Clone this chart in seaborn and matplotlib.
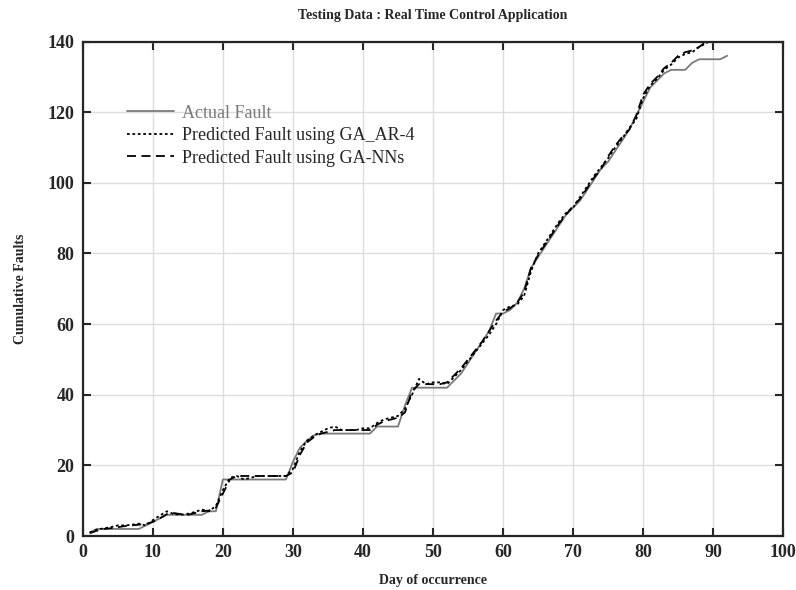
import numpy as np
import pandas as pd
import seaborn as sns
import matplotlib.pyplot as plt

days = list(range(1, 93))

actual = [1, 2, 2, 2, 2, 2, 2, 2, 3, 4,
          5, 6, 6, 6, 6, 6, 6, 7, 7, 16,
          16, 16, 16, 16, 16, 16, 16, 16, 16, 21,
          25, 27, 28.5, 29, 29, 29, 29, 29, 29, 29,
          29, 31, 31, 31, 31, 37, 42, 42, 42, 42,
          42, 42, 44, 46, 49, 52, 55, 58, 63, 63,
          64, 66, 70, 76, 79, 82, 85, 88, 91, 93,
          95, 98, 101, 104, 106, 109, 112, 115, 119, 123,
          127, 129, 131, 132, 132, 132, 134, 135, 135, 135,
          135, 136]

pred_ar = [1.0, 1.8, 2.2, 2.5, 3.0, 3.0, 3.2, 3.5, 3.0, 4.5,
           5.8, 7.0, 6.2, 6.0, 6.3, 6.8, 7.5, 7.0, 8.5, 13.0,
           16.5, 17.0, 16.0, 16.5, 17.0, 17.0, 17.0, 17.0, 17.0, 19.0,
           24.0, 27.0, 28.5, 29.5, 30.5, 31.0, 30.0, 30.0, 30.0, 30.5,
           30.5, 32.0, 33.0, 33.5, 34.0, 36.0, 40.0, 44.5, 43.0, 43.5,
           43.5, 43.0, 45.0, 47.0, 49.5, 52.0, 54.5, 57.0, 60.0, 64.0,
           65.0, 65.5, 68.0, 75.0, 80.0, 83.0, 86.0, 89.0, 91.5, 93.0,
           96.0, 99.0, 102.0, 104.5, 107.0, 110.0, 112.5, 115.5, 118.0, 124.0,
           127.5, 129.5, 132.0, 133.5, 135.5, 136.5, 137.0, 138.5, 139.5, 141.0,
           142.0, 143.0]

pred_nn = [0.8, 1.5, 2.0, 2.2, 2.5, 2.8, 3.0, 3.2, 3.4, 4.0,
           5.0, 6.2, 6.5, 6.2, 6.0, 6.5, 7.0, 7.2, 8.0, 12.0,
           16.0, 17.0, 17.0, 17.0, 17.0, 17.0, 17.0, 17.0, 17.0, 18.0,
           23.0, 26.5, 28.0, 29.0, 29.5, 30.0, 30.0, 30.0, 30.0, 30.0,
           30.0, 31.5, 32.5, 33.0, 33.5, 35.0, 41.0, 43.0, 43.0, 43.0,
           43.0, 43.5, 45.5, 47.5, 50.0, 52.5, 55.0, 58.0, 61.0, 63.5,
           64.5, 66.0, 69.0, 76.0, 79.5, 82.5, 85.5, 88.5, 91.0, 93.5,
           95.5, 98.5, 101.5, 104.0, 107.5, 110.5, 113.0, 115.0, 119.0, 125.0,
           128.0, 130.0, 132.5, 134.0, 136.0, 137.0, 137.5, 138.5, 140.0, 141.0,
           142.0, 143.0]

labels = ['Actual Fault', 'Predicted Fault using GA_AR-4', 'Predicted Fault using GA-NNs']

df = pd.concat([
    pd.DataFrame({'day': days, 'faults': actual, 'series': labels[0]}),
    pd.DataFrame({'day': days, 'faults': pred_ar, 'series': labels[1]}),
    pd.DataFrame({'day': days, 'faults': pred_nn, 'series': labels[2]}),
])

sns.set_style('ticks')
plt.rcParams['font.family'] = ['Liberation Serif', 'DejaVu Serif']

fig = plt.figure(figsize=(7.96, 5.90), dpi=100)
ax = fig.add_axes([0.104, 0.0915, 0.880, 0.838])

sns.lineplot(
    data=df, x='day', y='faults', hue='series', style='series',
    palette={labels[0]: '#7a7a7a', labels[1]: 'black', labels[2]: 'black'},
    dashes={labels[0]: '', labels[1]: (1.5, 1.5), labels[2]: (5, 3)},
    linewidth=1.3, ax=ax
)

ax.set_xlim(0, 100)
ax.set_ylim(0, 140)
ax.set_xticks(np.arange(0, 101, 10))
ax.set_yticks(np.arange(0, 141, 20))
ax.grid(True, color='#dddddd', linewidth=1.0)
ax.set_axisbelow(True)
ax.tick_params(direction='in', top=True, right=True, length=6, width=1.5,
               labelsize=13, pad=6)
for label in ax.get_xticklabels() + ax.get_yticklabels():
    label.set_fontweight('bold')
for s in ax.spines.values():
    s.set_linewidth(1.6)

ax.set_title('Testing Data : Real Time Control Application', fontsize=10,
             fontweight='bold', pad=16)
ax.set_xlabel('Day of occurrence', fontsize=10, fontweight='bold', labelpad=9)
ax.set_ylabel('Cumulative Faults', fontsize=10, fontweight='bold', labelpad=15)

leg = ax.legend(loc='upper left', bbox_to_anchor=(0.04, 0.905), frameon=False,
                fontsize=13, handlelength=2.6, handletextpad=0.45, labelspacing=0.3)
leg.get_texts()[0].set_color('#7a7a7a')

fig.savefig('out.png', dpi=100)
